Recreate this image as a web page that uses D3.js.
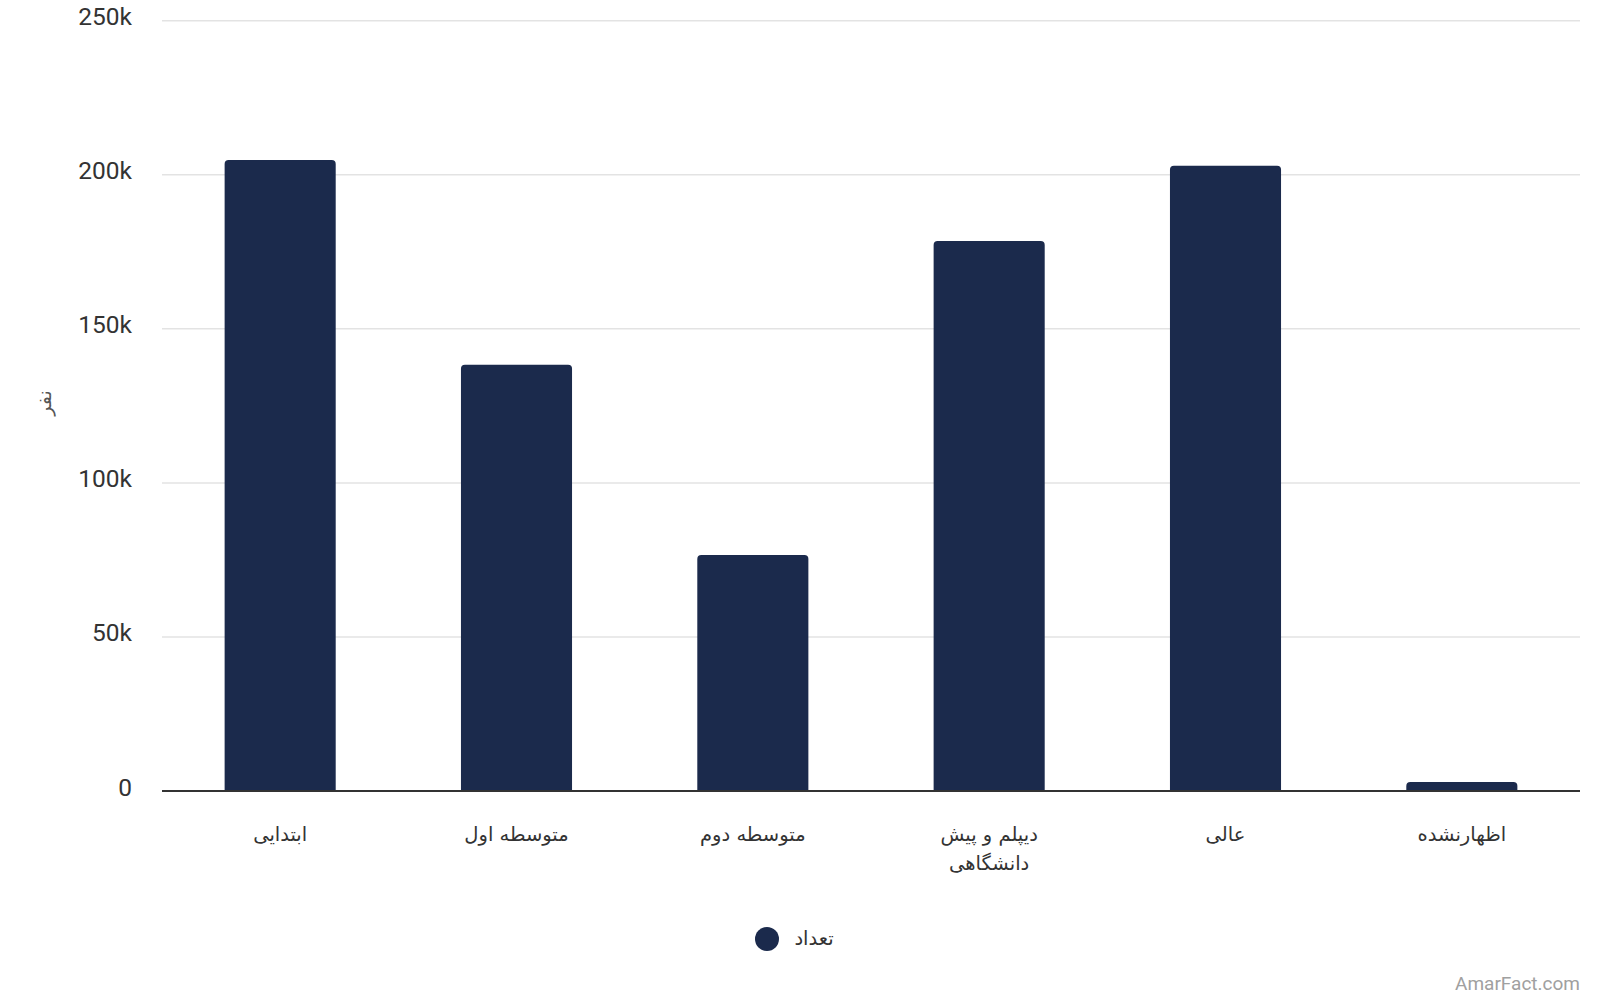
<!DOCTYPE html>
<html>
<head>
<meta charset="utf-8">
<script src="https://cdn.jsdelivr.net/npm/d3@7"></script>
<style>
html,body{margin:0;padding:0;background:#fff;}
svg{display:block;}
</style>
</head>
<body>
<svg id="chart" width="1600" height="1000"></svg>
<script>
const categories = ["ابتدایی", "متوسطه اول", "متوسطه دوم", "دیپلم و پیش دانشگاهی", "عالی", "اظهارنشده"];
const categoryLines = [["ابتدایی"], ["متوسطه اول"], ["متوسطه دوم"], ["دیپلم و پیش", "دانشگاهی"], ["عالی"], ["اظهارنشده"]];
const values = [204800, 138300, 76600, 178500, 202900, 2900];
const yTicks = [0, 50000, 100000, 150000, 200000, 250000];
const yTickLabels = ["0", "50k", "100k", "150k", "200k", "250k"];
const seriesName = "تعداد";
const yAxisTitle = "نفر";

(function () {
const svg = d3.select("#chart");
const plotLeft = 162, plotRight = 1580, plotTop = 20.7, plotBottom = 791;
const barColor = "#1b2a4c";

const x = d3.scaleBand().domain(categories).range([plotLeft, plotRight]).paddingInner(0.53).paddingOuter(0.265);
const y = d3.scaleLinear().domain([0, 250000]).range([plotBottom, plotTop]);

// gridlines
svg.append("g").selectAll("line").data(yTicks.filter(d => d > 0)).join("line")
  .attr("x1", plotLeft).attr("x2", plotRight)
  .attr("y1", d => y(d)).attr("y2", d => y(d))
  .attr("stroke", "#e3e3e3").attr("stroke-width", 1.5);

// y tick labels
svg.append("g").selectAll("text").data(yTicks).join("text")
  .attr("x", 132).attr("y", d => y(d) + 4.5)
  .attr("text-anchor", "end")
  .attr("font-family", "Roboto, sans-serif").attr("font-size", 24.5)
  .attr("fill", "#333")
  .text((d, i) => yTickLabels[i]);

// y axis title
svg.append("text")
  .attr("transform", "translate(45,403) rotate(-90)")
  .attr("text-anchor", "middle").attr("dominant-baseline", "middle")
  .attr("font-family", "DejaVu Sans, sans-serif").attr("font-size", 19)
  .attr("fill", "#555")
  .text(yAxisTitle);

// bars with rounded top corners
const r = 4;
svg.append("g").selectAll("path").data(categories).join("path")
  .attr("fill", barColor)
  .attr("d", (c, i) => {
    const x0 = x(c), w = x.bandwidth(), y0 = y(values[i]), y1 = y(0);
    const rr = Math.min(r, (y1 - y0));
    return `M${x0},${y1} L${x0},${y0 + rr} Q${x0},${y0} ${x0 + rr},${y0} L${x0 + w - rr},${y0} Q${x0 + w},${y0} ${x0 + w},${y0 + rr} L${x0 + w},${y1} Z`;
  });

// baseline axis
svg.append("line")
  .attr("x1", plotLeft).attr("x2", plotRight)
  .attr("y1", y(0)).attr("y2", y(0))
  .attr("stroke", "#333").attr("stroke-width", 2);

// x labels
const xl = svg.append("g").selectAll("text").data(categories).join("text")
  .attr("text-anchor", "middle")
  .attr("font-family", "DejaVu Sans, sans-serif").attr("font-size", 19.5)
  .attr("fill", "#333");
xl.each(function(c, i) {
  const t = d3.select(this);
  categoryLines[i].forEach((line, j) => {
    t.append("tspan").attr("x", x(c) + x.bandwidth() / 2).attr("y", 841 + j * 29).text(line);
  });
});

// legend
svg.append("circle").attr("cx", 767).attr("cy", 939).attr("r", 12).attr("fill", barColor);
svg.append("text")
  .attr("x", 814).attr("y", 939)
  .attr("text-anchor", "middle").attr("dominant-baseline", "middle")
  .attr("font-family", "DejaVu Sans, sans-serif").attr("font-size", 19.5)
  .attr("fill", "#333")
  .text(seriesName);

// watermark
svg.append("text")
  .attr("x", 1580).attr("y", 990)
  .attr("text-anchor", "end")
  .attr("font-family", "Roboto, sans-serif").attr("font-size", 19)
  .attr("fill", "#a0a0a0")
  .text("AmarFact.com");
})();
</script>
</body>
</html>
